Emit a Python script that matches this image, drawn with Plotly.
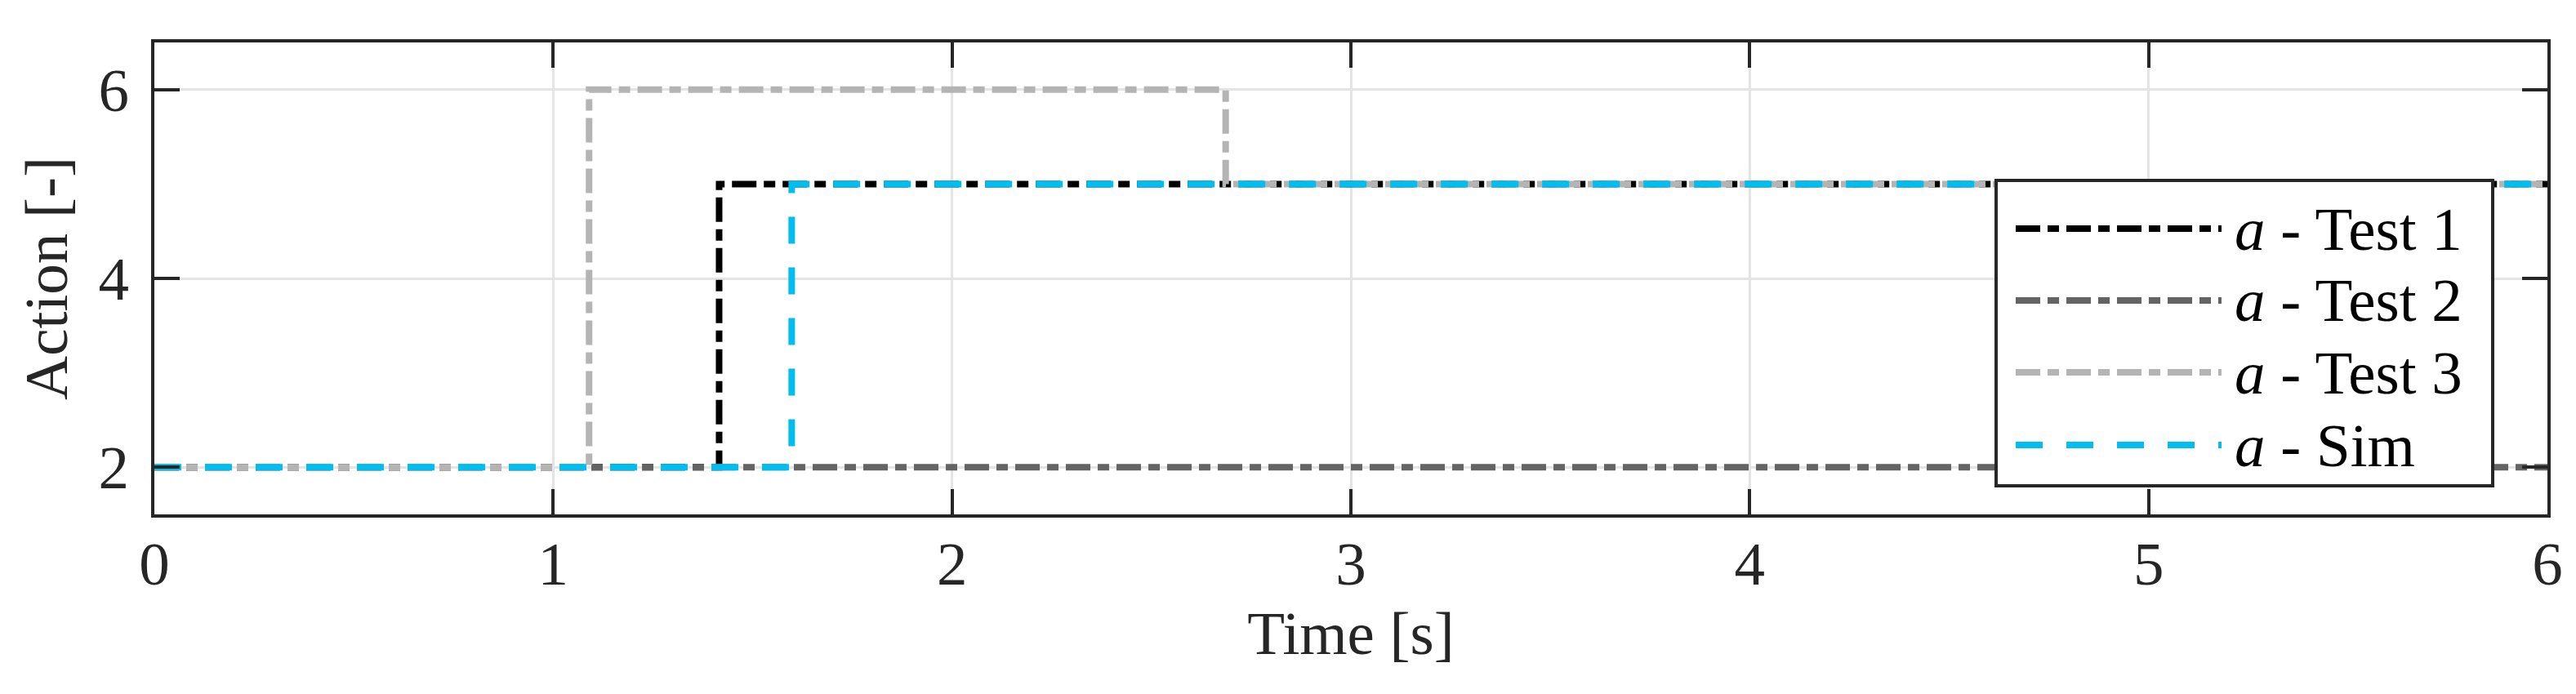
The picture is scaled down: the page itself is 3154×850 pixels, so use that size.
import plotly.graph_objects as go

# ---- data ----
series_names = ["Test 1", "Test 2", "Test 3", "Sim"]
t_test1 = [0.0, 1.416, 6.0]
a_test1 = [2, 5, 5]
t_test2 = [0.0, 6.0]
a_test2 = [2, 2]
t_test3 = [0.0, 1.090, 2.686, 6.0]
a_test3 = [2, 6, 5, 5]
t_sim = [0.0, 1.598, 6.0]
a_sim = [2, 5, 5]
x_ticks = [0, 1, 2, 3, 4, 5, 6]
y_ticks = [2, 4, 6]

# ---- style ----
W, H = 3154, 850
L, R, T, B = 181, 3111, 44, 622
FONT = "Liberation Serif, Times New Roman, serif"
FS = 75
AX = "#262626"
DASHDOT = "30px,9px,14px,9px"
DASH = "33px,29px"
styles = [
    dict(color="#000000", dash=DASHDOT),
    dict(color="#646464", dash=DASHDOT),
    dict(color="#B4B4B4", dash=DASHDOT),
    dict(color="#00BEF0", dash=DASH),
]
LW = 8

xs = [t_test1, t_test2, t_test3, t_sim]
ys = [a_test1, a_test2, a_test3, a_sim]

fig = go.Figure()
for name, x, y, st in zip(series_names, xs, ys, styles):
    fig.add_trace(go.Scatter(
        x=x, y=y, mode="lines", name="a - " + name,
        line=dict(shape="hv", color=st["color"], dash=st["dash"], width=LW),
        showlegend=False,
    ))

def px(xp):
    return (xp - L) / (R - L)

def py(yp):
    return (B - yp) / (B - T)

# custom legend (box, samples, labels)
shapes = [dict(type="rect", xref="paper", yref="paper",
               x0=px(2436), x1=px(3044), y0=py(587), y1=py(213),
               line=dict(color=AX, width=4), fillcolor="white", layer="above")]
annotations = []
rows = [272, 360, 448, 537]
for name, st, ry in zip(series_names, styles, rows):
    shapes.append(dict(type="line", xref="paper", yref="paper",
                       x0=px(2460), x1=px(2712), y0=py(ry), y1=py(ry),
                       line=dict(color=st["color"], dash=st["dash"], width=LW),
                       layer="above"))
    annotations.append(dict(xref="paper", yref="paper", x=px(2726), y=py(ry),
                            xanchor="left", yanchor="middle", showarrow=False,
                            text="<i>a</i> - " + name,
                            font=dict(family=FONT, size=FS, color="black")))

fig.update_layout(
    width=W, height=H,
    margin=dict(l=L, r=W - R, t=T, b=H - B, autoexpand=False),
    paper_bgcolor="white", plot_bgcolor="white",
    font=dict(family=FONT, size=FS, color=AX),
    shapes=shapes, annotations=annotations,
    showlegend=False,
)
fig.update_xaxes(
    range=[0, 6], tickvals=x_ticks, ticktext=[str(v) for v in x_ticks],
    showgrid=True, gridcolor="#E4E4E4", gridwidth=3,
    showline=True, linecolor=AX, linewidth=4, mirror="ticks",
    ticks="inside", ticklen=31, tickwidth=4, tickcolor=AX,
    zeroline=False, ticklabelstandoff=-8,
    title=dict(text="Time [s]", font=dict(family=FONT, size=FS, color=AX), standoff=18),
    tickfont=dict(family=FONT, size=FS, color=AX),
)
fig.update_yaxes(
    range=[1.5, 6.5], tickvals=y_ticks, ticktext=[str(v) for v in y_ticks],
    showgrid=True, gridcolor="#E4E4E4", gridwidth=3,
    showline=True, linecolor=AX, linewidth=4, mirror="ticks",
    ticks="inside", ticklen=31, tickwidth=4, tickcolor=AX,
    zeroline=False, ticklabelstandoff=12,
    title=dict(text="Action [-]", font=dict(family=FONT, size=FS, color=AX), standoff=14),
    tickfont=dict(family=FONT, size=FS, color=AX),
)

fig.write_html("out.html")
